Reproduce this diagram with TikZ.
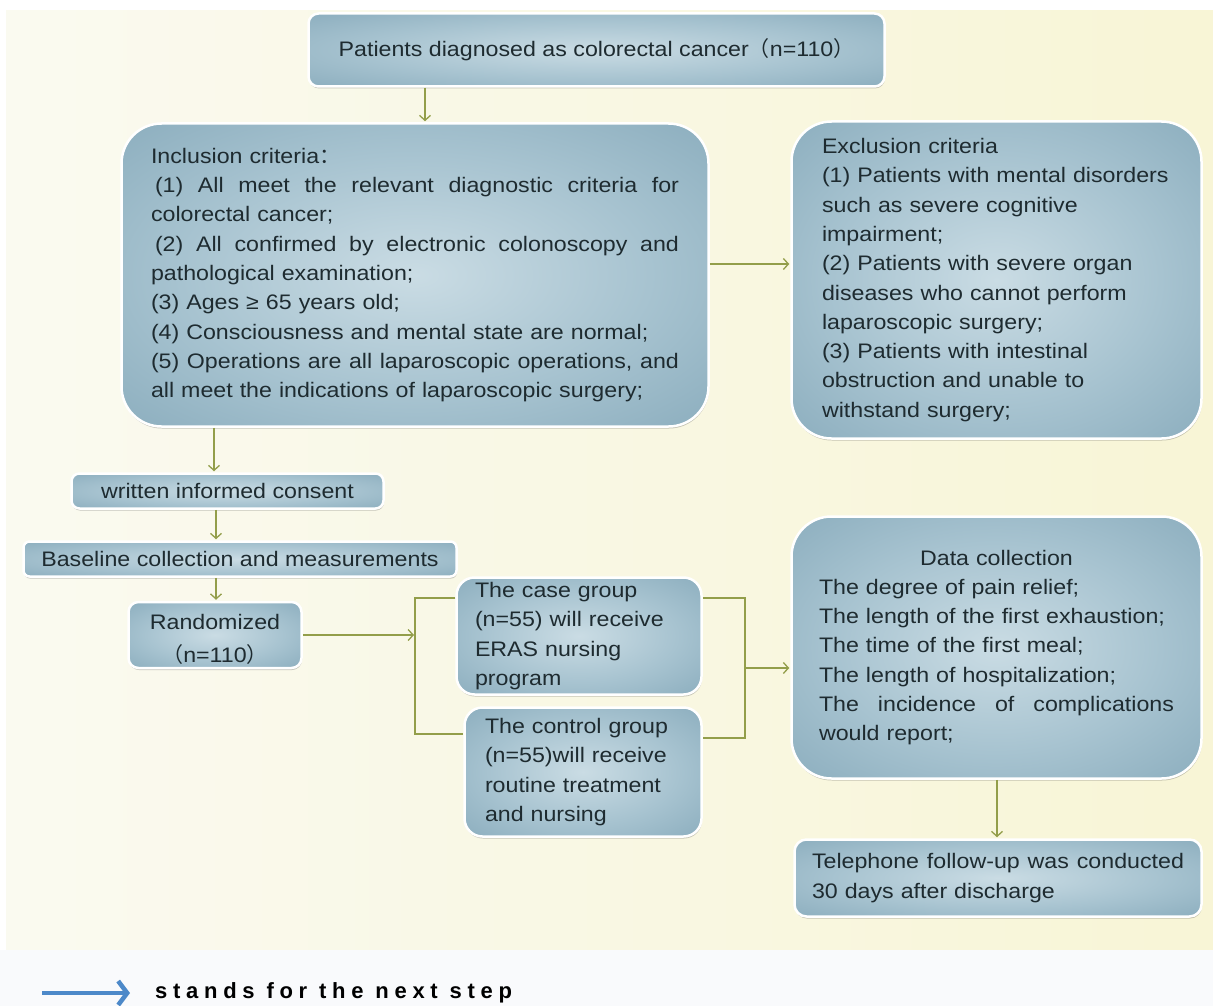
\documentclass[tikz,border=0pt]{standalone}
\usepackage{fontspec}
\setmainfont[FakeStretch=1.105]{Liberation Sans}
\newfontfamily\cjk{Noto Sans CJK SC}
\newfontfamily\legfont[LetterSpace=26]{Liberation Sans Bold}
\usetikzlibrary{arrows.meta,shadows}
\definecolor{bgA}{HTML}{FAFAF0}
\definecolor{bgB}{HTML}{F8F5D6}
\definecolor{bgbot}{HTML}{F9FAFC}
\definecolor{shA}{HTML}{CADCE4}
\definecolor{shB}{HTML}{A7C3D0}
\definecolor{shC}{HTML}{7EA3B5}
\definecolor{shD}{HTML}{62899D}
\definecolor{conncol}{HTML}{939E4A}
\definecolor{txt}{HTML}{1E2B30}
\definecolor{legblue}{HTML}{4D89C9}
\pgfdeclareradialshading{boxshade}{\pgfpoint{0bp}{0bp}}{color(0bp)=(shA); color(20bp)=(shB); color(44bp)=(shC); color(72bp)=(shD)}
\newcommand\jl[2]{\makebox[#1pt][s]{\spaceskip=0pt\xspaceskip=0pt #2}}
\tikzset{
  box/.style={draw=white, line width=2.5pt, shade, shading=boxshade,
    text=txt, inner sep=0pt, font=\fontsize{21}{29.3}\selectfont,
    drop shadow={shadow xshift=0.5pt, shadow yshift=-2pt, opacity=0.3, fill=black!70}},
  conn/.style={draw=conncol, line width=1.3pt},
  arr/.style={conn, -{Straight Barb[length=5pt,width=11pt]}, shorten >=1pt},
}
\begin{document}
\begin{tikzpicture}[x=1pt,y=-1pt]
\useasboundingbox (0,0) rectangle (1213,1006);
\fill[white] (0,0) rectangle (1213,1006);
\shade[left color=bgA, right color=bgB] (6,11) rectangle (1213,950);
\fill[bgbot] (0,950) rectangle (1213,1006);

\node[box, rounded corners=10pt, minimum width=576pt, minimum height=73pt] (top) at (596.5,50)
  {Patients diagnosed as colorectal cancer{\cjk （}n=110{\cjk ）}};

\node[box, rounded corners=40pt, minimum width=587pt, minimum height=303pt, text width=528pt, align=left] (incl) at (415,275)
  {Inclusion criteria{\cjk ：}\\
   \jl{528}{\hspace*{4pt}(1) All meet the relevant diagnostic criteria for}\\
   colorectal cancer;\\
   \jl{528}{\hspace*{4pt}(2) All confirmed by electronic colonoscopy and}\\
   pathological examination;\\
   (3) Ages ≥ 65 years old;\\
   (4) Consciousness and mental state are normal;\\
   \jl{528}{(5) Operations are all laparoscopic operations, and}\\
   all meet the indications of laparoscopic surgery;};

\node[box, rounded corners=40pt, minimum width=410pt, minimum height=317pt, text width=349pt, align=left] (excl) at (996.5,280)
  {Exclusion criteria\\
   (1) Patients with mental disorders\\
   such as severe cognitive\\
   impairment;\\
   (2) Patients with severe organ\\
   diseases who cannot perform\\
   laparoscopic surgery;\\
   (3) Patients with intestinal\\
   obstruction and unable to\\
   withstand surgery;};

\node[box, rounded corners=8pt, minimum width=312pt, minimum height=35pt] (cons) at (227.5,491)
  {written informed consent};

\node[box, rounded corners=6pt, minimum width=433pt, minimum height=35pt] (base) at (240,559)
  {Baseline collection and measurements};

\node[box, rounded corners=10pt, minimum width=173pt, minimum height=53pt,
      font=\fontsize{21}{33}\selectfont] (rand) at (215,635)
  {\raisebox{-4pt}[\height][\depth]{\begin{tabular}{@{}c@{}}Randomized\\{\cjk （}n=110{\cjk ）}\end{tabular}}};

\node[box, rounded corners=18pt, minimum width=245pt, minimum height=117pt, text width=208pt, align=left] (case) at (579,636)
  {The case group\\
   (n=55) will receive\\
   ERAS nursing\\
   program};

\node[box, rounded corners=18pt, minimum width=237pt, minimum height=129pt, text width=196pt, align=left] (ctrl) at (583,772)
  {The control group\\
   (n=55)will receive\\
   routine treatment\\
   and nursing};

\node[box, rounded corners=40pt, minimum width=410pt, minimum height=262pt, text width=355pt, align=left] (data) at (996.5,647.5)
  {\makebox[355pt][c]{Data collection}\\
   The degree of pain relief;\\
   The length of the first exhaustion;\\
   The time of the first meal;\\
   The length of hospitalization;\\
   \jl{355}{The incidence of complications}\\
   would report;};

\node[box, rounded corners=12pt, minimum width=407pt, minimum height=77pt, text width=372pt, align=left] (tel) at (998,878)
  {\jl{372}{Telephone follow-up was conducted}\\
   30 days after discharge};

% connectors
\coordinate (c1) at (425,0);
\draw[arr] (top.south -| c1) -- (incl.north -| c1);
\coordinate (c2) at (0,264);
\draw[arr] (incl.east |- c2) -- (excl.west |- c2);
\coordinate (c3) at (214,0);
\draw[arr] (incl.south -| c3) -- (cons.north -| c3);
\coordinate (c4) at (216,0);
\draw[arr] (cons.south -| c4) -- (base.north -| c4);
\draw[arr] (base.south -| c4) -- (rand.north -| c4);
\coordinate (sl) at (415,635);
\coordinate (la) at (415,598);
\coordinate (lb) at (415,734);
\draw[arr] (rand.east |- sl) -- (sl);
\draw[conn] (case.west |- la) -- (la) -- (lb) -- (ctrl.west |- lb);
\coordinate (ra) at (745,598);
\coordinate (rb) at (745,738);
\coordinate (rm) at (745,668);
\draw[conn] (case.east |- ra) -- (ra) -- (rb) -- (ctrl.east |- rb);
\draw[arr] (rm) -- (data.west |- rm);
\coordinate (c5) at (997,0);
\draw[arr] (data.south -| c5) -- (tel.north -| c5);

% legend
\node[anchor=west, inner sep=0pt, text=black, font=\legfont\fontsize{22}{24}\selectfont] (leg) at (155,993)
  {stands for the next step};
\coordinate (lg1) at (42,993);
\coordinate (lg2) at (130,993);
\draw[legblue, line width=3.5pt, -{Straight Barb[length=9pt,width=24pt,line width=4.5pt]}] (lg1) -- (lg2);
\end{tikzpicture}
\end{document}
